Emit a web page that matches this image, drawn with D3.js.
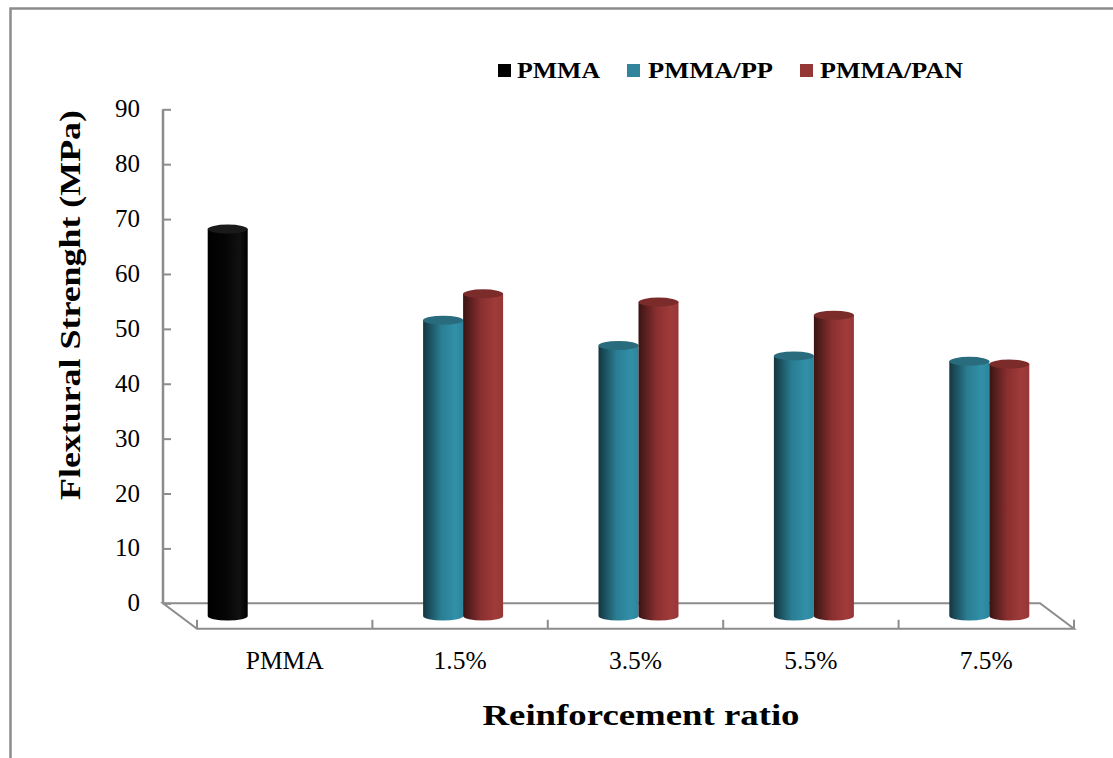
<!DOCTYPE html>
<html>
<head>
<meta charset="utf-8">
<script src="https://cdn.jsdelivr.net/npm/d3@7"></script>
<style>
  html, body { margin: 0; padding: 0; background: #fff; }
  svg { display: block; }
  text { font-family: "Times New Roman", "Liberation Serif", serif; fill: #000; }
</style>
</head>
<body>
<svg id="chart" width="1113" height="758"></svg>
<script>
// Flexural strength by reinforcement ratio (MPa)
const categories = ["PMMA", "1.5%", "3.5%", "5.5%", "7.5%"];
const seriesNames = ["PMMA", "PMMA/PP", "PMMA/PAN"];
const pmmaValues = [70.5, null, null, null, null];
const ppValues   = [null, 53.9, 49.3, 47.4, 46.4];
const panValues  = [null, 58.7, 57.2, 54.8, 45.9];
const yTicks = [0, 10, 20, 30, 40, 50, 60, 70, 80, 90];

const seriesValues = [pmmaValues, ppValues, panValues];
const seriesStyle = [
  { id: "gBlack", stops: ["#000", "#050505", "#111", "#000"], top: "#1a1a1a", key: "#000" },
  { id: "gTeal",  stops: ["#143640", "#2a7d93", "#3190a8", "#2c859c"], top: "#296c7e", key: "#31849b" },
  { id: "gRed",   stops: ["#3a1414", "#8a2f2f", "#a03b3b", "#973636"], top: "#7c2b2b", key: "#953735" }
];

const svg = d3.select("#chart");

// gradients for the cylinder bodies
const defs = svg.append("defs");
seriesStyle.forEach(s => {
  const g = defs.append("linearGradient").attr("id", s.id)
    .attr("x1", "0%").attr("x2", "100%").attr("y1", "0%").attr("y2", "0%");
  [0, 0.45, 0.8, 1].forEach((o, i) => g.append("stop").attr("offset", o).attr("stop-color", s.stops[i]));
});

// outer frame
const frameColor = "#8c8c8c";
svg.append("path").attr("d", "M10.5,758 L10.5,8.5 L1113,8.5")
  .attr("fill", "none").attr("stroke", frameColor).attr("stroke-width", 2.5);

// 3D geometry: back wall and front edge of the floor
const depthX = 34, depthY = 25.5;
const backLeft = 163, backRight = 1040;
const y = d3.scaleLinear().domain([0, 90]).range([603.3, 109.3]);
const xFront = d3.scaleBand().domain(categories).range([backLeft + depthX, backRight + depthX]);
const xMid = d3.scaleBand().domain(categories).range([backLeft + depthX / 2, backRight + depthX / 2]);
const xSeries = d3.scaleBand().domain(seriesNames).range([-60, 60]);
const yMid = v => y(v) + depthY / 2;

const axisColor = "#8c8c8c";
const g = svg.append("g");

// vertical value axis on the back wall
const yAxis = g.append("g").attr("transform", `translate(${backLeft},0)`)
  .call(d3.axisRight(y).tickValues(yTicks).tickSize(8).tickFormat(""));
yAxis.select(".domain").remove();
yAxis.selectAll(".tick line").attr("stroke", axisColor).attr("stroke-width", 2);
g.append("line").attr("x1", backLeft).attr("x2", backLeft).attr("y1", y(90)).attr("y2", y(0))
  .attr("stroke", axisColor).attr("stroke-width", 2.5);

g.selectAll(".ylab").data(yTicks).enter().append("text")
  .attr("x", 140).attr("y", d => y(d) + 8)
  .attr("text-anchor", "end").attr("font-size", 25).text(d => d);

// floor outline
const y0 = y(0), yFrontFloor = y0 + depthY;
g.append("path")
  .attr("d", `M${backLeft},${y0} L${backRight},${y0} L${backRight + depthX},${yFrontFloor} L${backLeft + depthX},${yFrontFloor} Z`)
  .attr("fill", "none").attr("stroke", axisColor).attr("stroke-width", 2).attr("stroke-linejoin", "miter");

// category tick marks on the front edge
const bounds = categories.map(c => xFront(c)).concat([backRight + depthX]);
g.selectAll(".xtick").data(bounds).enter().append("line")
  .attr("x1", d => d).attr("x2", d => d)
  .attr("y1", yFrontFloor).attr("y2", yFrontFloor - 9)
  .attr("stroke", axisColor).attr("stroke-width", 2);

g.selectAll(".xlab").data(categories).enter().append("text")
  .attr("x", d => xFront(d) + xFront.bandwidth() / 2).attr("y", 669)
  .attr("text-anchor", "middle").attr("font-size", 25.5).text(d => d);

// cylinders
const rx = xSeries.bandwidth() / 2, ry = 4.5;
const bars = [];
seriesValues.forEach((vals, si) => {
  vals.forEach((v, ci) => {
    if (v == null) return;
    bars.push({ si, ci, v });
  });
});

const barG = g.append("g");
bars.forEach(b => {
  const s = seriesStyle[b.si];
  const cx = xMid(categories[b.ci]) + xMid.bandwidth() / 2 + xSeries(seriesNames[b.si]) + rx;
  const yt = yMid(b.v), yb = yMid(0);
  const bg = barG.append("g");
  bg.append("path")
    .attr("d", `M${cx - rx},${yt} L${cx - rx},${yb} A${rx},${ry} 0 0 0 ${cx + rx},${yb} L${cx + rx},${yt} Z`)
    .attr("fill", `url(#${s.id})`);
  bg.append("ellipse").attr("cx", cx).attr("cy", yt).attr("rx", rx).attr("ry", ry)
    .attr("fill", s.top);
});

// legend
const legendItems = [
  { name: seriesNames[0], x: 498, tx: 517, len: 83 },
  { name: seriesNames[1], x: 627, tx: 648, len: 125 },
  { name: seriesNames[2], x: 800, tx: 820, len: 143 }
];
legendItems.forEach((it, i) => {
  svg.append("rect").attr("x", it.x).attr("y", 64).attr("width", 13).attr("height", 13)
    .attr("fill", seriesStyle[i].key);
  svg.append("text").attr("x", it.tx).attr("y", 78)
    .attr("font-size", 24).attr("font-weight", "bold")
    .attr("textLength", it.len).attr("lengthAdjust", "spacingAndGlyphs")
    .text(it.name);
});

// axis titles
svg.append("text").attr("x", 641).attr("y", 725).attr("text-anchor", "middle")
  .attr("font-size", 29).attr("font-weight", "bold")
  .attr("textLength", 317).attr("lengthAdjust", "spacingAndGlyphs")
  .text("Reinforcement ratio");

svg.append("text").attr("transform", "translate(80,305) rotate(-90)")
  .attr("text-anchor", "middle")
  .attr("font-size", 30).attr("font-weight", "bold")
  .attr("textLength", 390).attr("lengthAdjust", "spacingAndGlyphs")
  .text("Flextural Strenght (MPa)");
</script>
</body>
</html>
